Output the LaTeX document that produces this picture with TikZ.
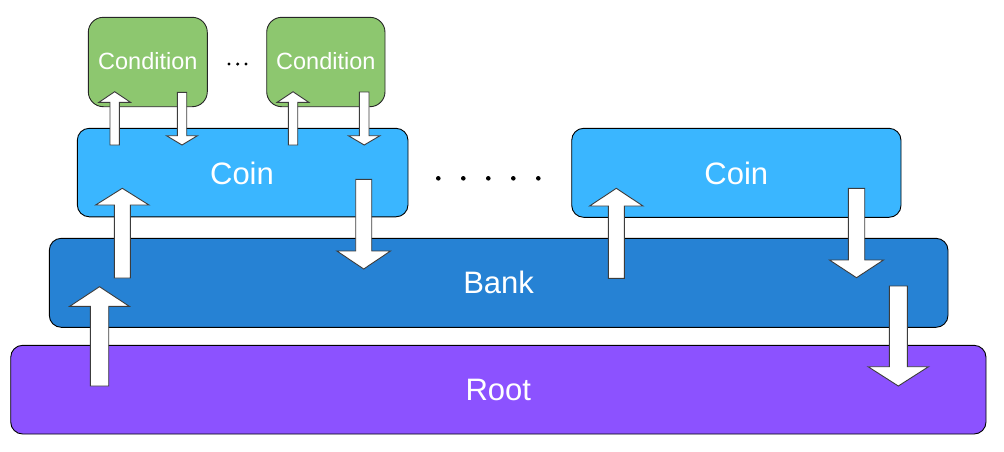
\documentclass[tikz,border=0pt]{standalone}
\usepackage{fontspec}
\setmainfont{Liberation Sans}
\definecolor{condgreen}{RGB}{141,199,111}
\definecolor{coinblue}{RGB}{58,182,255}
\definecolor{bankblue}{RGB}{38,130,212}
\definecolor{rootpurple}{RGB}{140,82,255}
\definecolor{arrowedge}{RGB}{60,60,60}
\newcommand{\blkarrow}[6]{% cx, tail y, head base y, tip y, shaft half, head half
  \draw[blockarrow] ({#1-#5},#2) -- ({#1-#5},#3) -- ({#1-#6},#3) -- (#1,#4)
    -- ({#1+#6},#3) -- ({#1+#5},#3) -- ({#1+#5},#2) -- cycle;}
\begin{document}
\begin{tikzpicture}[x=1pt,y=-1pt,
  layer/.style={draw=black,line width=0.9pt,rounded corners=12pt},
  condbox/.style={draw=black!85,line width=0.9pt,rounded corners=15pt,fill=condgreen},
  blockarrow/.style={draw=arrowedge,line width=0.9pt,fill=white,line join=miter},
  lbl/.style={text=white,font=\fontsize{31}{35}\selectfont},
  clbl/.style={text=white,font=\fontsize{23.5}{27}\selectfont},
  dot/.style={fill=black}]
\useasboundingbox (0,0) rectangle (1004,451);
% layers
\draw[layer,fill=rootpurple] (10.7,345.3) rectangle (986,434);
\node[lbl] (root) at (498.3,389.5) {Root};
\draw[layer,fill=bankblue] (49.3,238.3) rectangle (948,327.3);
\node[lbl] (bank) at (498.6,282.5) {Bank};
\draw[layer,fill=coinblue] (77.3,128.3) rectangle (408,216.8);
\node[lbl] (coina) at (242,173) {Coin};
\draw[layer,fill=coinblue] (571.7,128.3) rectangle (901,217.3);
\node[lbl] (coinb) at (736.3,173) {Coin};
\draw[condbox] (88.3,17.3) rectangle (207.3,106.7);
\node[clbl] (conda) at (147.8,61.5) {Condition};
\draw[condbox] (266.7,17.3) rectangle (385,106.7);
\node[clbl] (condb) at (325.8,61.5) {Condition};
% dots
\foreach \x in {229,237.7,246} \fill[dot] (\x,64) circle (1.7);
\foreach \x in {438.3,463.3,488.3,513.3,538.3} \fill[dot] (\x,178.3) circle (2.3);
% block arrows
\blkarrow{99.5}{386}{306.3}{286.7}{9.2}{29.8}
\blkarrow{898.3}{286}{366.7}{386}{9}{30.2}
\blkarrow{122.3}{278}{205}{188.3}{8}{26.7}
\blkarrow{363.7}{179.3}{251}{269}{8}{26.8}
\blkarrow{616.3}{278.3}{206}{188.3}{8}{26.7}
\blkarrow{856.5}{188.3}{260}{277.7}{8.2}{27}
\blkarrow{114.7}{145}{102.3}{91.7}{4.7}{15.8}
\blkarrow{182}{92.3}{135.7}{145}{4.7}{15.5}
\blkarrow{293}{145}{102.3}{91.7}{4.7}{15.8}
\blkarrow{364.2}{92}{135.7}{145}{4.8}{15.8}
\end{tikzpicture}
\end{document}
